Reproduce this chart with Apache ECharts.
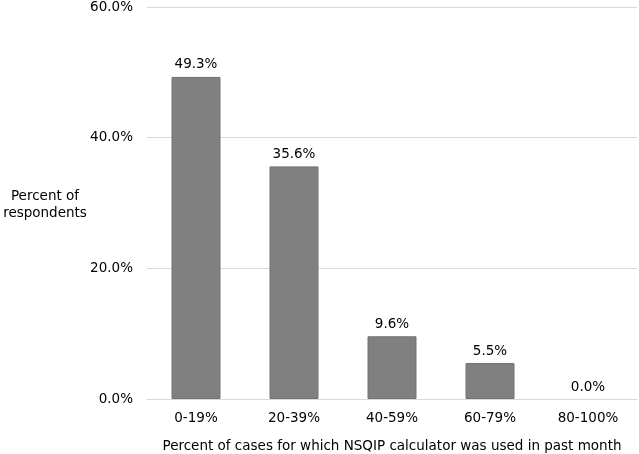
<!DOCTYPE html>
<html>
<head>
<meta charset="utf-8">
<script src="https://cdn.jsdelivr.net/npm/echarts@6/dist/echarts.min.js"></script>
<style>html,body{margin:0;padding:0;background:#fff}#c{width:639px;height:454px}</style>
</head>
<body>
<div id="c"></div>
<script>
const categories = ['0-19%', '20-39%', '40-59%', '60-79%', '80-100%'];
const values = [49.3, 35.6, 9.6, 5.5, 0.0];
const yTicks = [0, 20, 40, 60];
const xTitle = 'Percent of cases for which NSQIP calculator was used in past month';
const yTitle = 'Percent of\nrespondents';

const font = '"DejaVu Sans", sans-serif';
const fs = 13.5;
const chart = echarts.init(document.getElementById('c'), null, {renderer: 'canvas'});
chart.setOption({
  animation: false,
  backgroundColor: '#fff',
  grid: {left: 147, right: 2, top: 7, bottom: 55, containLabel: false, outerBoundsMode: 'none'},
  xAxis: {
    type: 'category',
    data: categories,
    axisLine: {show: true, lineStyle: {color: '#d9d9d9', width: 1}},
    axisTick: {show: false},
    axisLabel: {color: '#000', fontFamily: font, fontSize: fs, margin: 12},
    name: xTitle,
    nameLocation: 'middle',
    nameGap: 40,
    nameTextStyle: {color: '#000', fontFamily: font, fontSize: fs}
  },
  yAxis: {
    type: 'value',
    min: yTicks[0],
    max: yTicks[yTicks.length - 1],
    interval: 20,
    axisLine: {show: false},
    axisTick: {show: false},
    splitLine: {lineStyle: {color: '#d9d9d9', width: 1}},
    axisLabel: {color: '#000', fontFamily: font, fontSize: fs, margin: 14,
      formatter: v => v.toFixed(1) + '%'}
  },
  graphic: [{
    type: 'text',
    x: 45, y: 205,
    style: {text: yTitle, fill: '#000', font: fs + 'px ' + font, textAlign: 'center', textVerticalAlign: 'middle', lineHeight: 17}
  }],
  series: [{
    type: 'bar',
    data: values.map(v => v === 0 ? {value: v, itemStyle: {borderWidth: 0}} : v),
    barWidth: '50%',
    itemStyle: {color: '#808080', borderColor: '#727272', borderWidth: 1},
    label: {show: true, position: 'top', distance: 5, color: '#000', fontFamily: font, fontSize: fs,
      formatter: p => p.value.toFixed(1) + '%'}
  }]
});
</script>
</body>
</html>
